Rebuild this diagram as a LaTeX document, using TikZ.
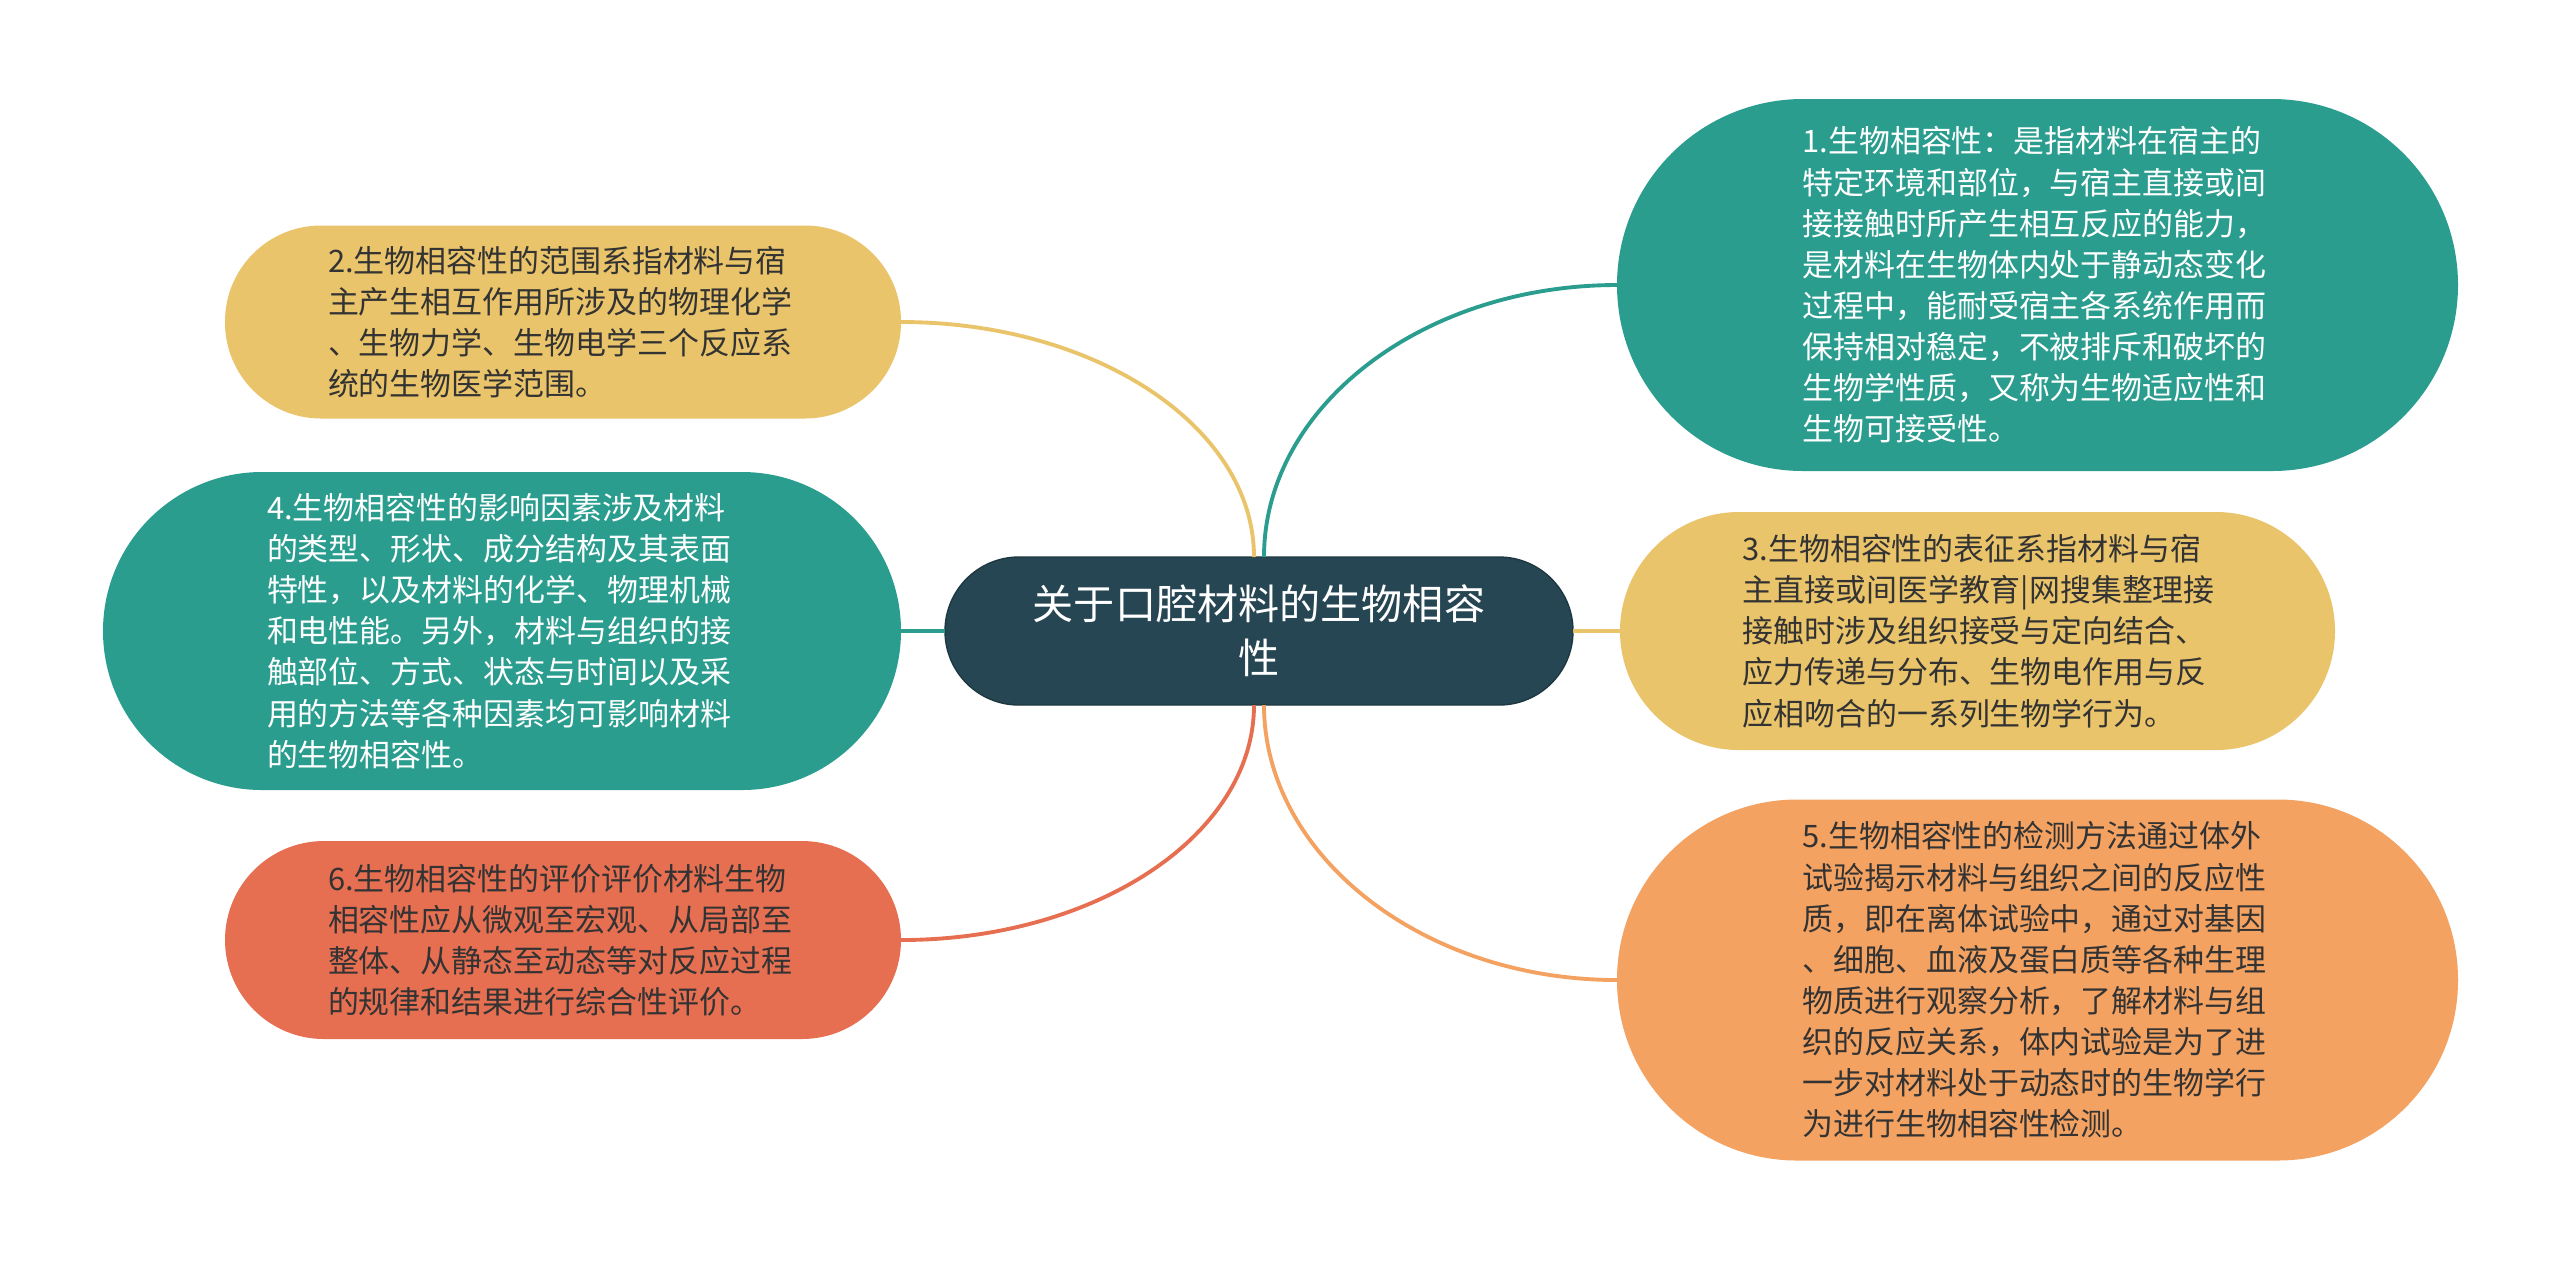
\documentclass[tikz,border=0pt]{standalone}
\usepackage{fontspec}
\newfontfamily\cjk{Noto Sans CJK SC}
\definecolor{mapdark}{HTML}{264653}
\definecolor{mapteal}{HTML}{2A9D8F}
\definecolor{mapsand}{HTML}{E9C46A}
\definecolor{mappeach}{HTML}{F4A261}
\definecolor{mapcoral}{HTML}{E76F51}
\definecolor{mapink}{HTML}{333333}

\begin{document}
\begin{tikzpicture}[
    idea/.style={rectangle, outer sep=0pt, inner sep=0pt, align=left,
                 text width=4.7cm, text=mapink,
                 font=\cjk\fontsize{8.8pt}{11.7pt}\selectfont},
    link/.style={line width=1.1pt}
  ]
  \useasboundingbox (0,0) rectangle (25.6,-12.63);

  % centre topic
  \node[rectangle, outer sep=0pt, fill=mapdark, draw=mapdark!80!black, line width=0.4pt,
        minimum width=6.28cm, minimum height=1.48cm, rounded corners=0.74cm,
        text=white, align=center, font=\cjk\fontsize{11.7pt}{15.4pt}\selectfont]
    (topic) at (12.59,-6.31) {关于口腔材料的生物相容\\性};

  % right side
  \node[idea, fill=mapteal, text=white, minimum width=8.41cm, minimum height=3.72cm,
        rounded corners=1.86cm] (bio1) at (20.375,-2.85)
    {1.生物相容性：是指材料在宿主的\\特定环境和部位，与宿主直接或间\\接接触时所产生相互反应的能力，\\是材料在生物体内处于静动态变化\\过程中，能耐受宿主各系统作用而\\保持相对稳定，不被排斥和破坏的\\生物学性质，又称为生物适应性和\\生物可接受性。};
  \node[idea, fill=mapsand, minimum width=7.15cm, minimum height=2.38cm,
        rounded corners=1.19cm] (bio3) at (19.775,-6.31)
    {3.生物相容性的表征系指材料与宿\\主直接或间医学教育|网搜集整理接\\接触时涉及组织接受与定向结合、\\应力传递与分布、生物电作用与反\\应相吻合的一系列生物学行为。};
  \node[idea, fill=mappeach, minimum width=8.41cm, minimum height=3.61cm,
        rounded corners=1.8cm] (bio5) at (20.375,-9.80)
    {5.生物相容性的检测方法通过体外\\试验揭示材料与组织之间的反应性\\质，即在离体试验中，通过对基因\\、细胞、血液及蛋白质等各种生理\\物质进行观察分析，了解材料与组\\织的反应关系，体内试验是为了进\\一步对材料处于动态时的生物学行\\为进行生物相容性检测。};

  % left side
  \node[idea, fill=mapsand, minimum width=6.76cm, minimum height=1.93cm,
        rounded corners=0.96cm] (bio2) at (5.63,-3.22)
    {2.生物相容性的范围系指材料与宿\\主产生相互作用所涉及的物理化学\\、生物力学、生物电学三个反应系\\统的生物医学范围。};
  \node[idea, fill=mapteal, text=white, minimum width=7.98cm, minimum height=3.18cm,
        rounded corners=1.59cm] (bio4) at (5.02,-6.31)
    {4.生物相容性的影响因素涉及材料\\的类型、形状、成分结构及其表面\\特性，以及材料的化学、物理机械\\和电性能。另外，材料与组织的接\\触部位、方式、状态与时间以及采\\用的方法等各种因素均可影响材料\\的生物相容性。};
  \node[idea, fill=mapcoral, minimum width=6.76cm, minimum height=1.98cm,
        rounded corners=0.99cm] (bio6) at (5.63,-9.40)
    {6.生物相容性的评价评价材料生物\\相容性应从微观至宏观、从局部至\\整体、从静态至动态等对反应过程\\的规律和结果进行综合性评价。};

  % branches
  \draw[link, mapsand] ([xshift=-0.5mm]topic.north) .. controls +(0,1.3) and +(1.95,0) .. (bio2.east);
  \draw[link, mapteal] ([xshift=0.5mm]topic.north) .. controls +(0,1.5) and +(-1.95,0) .. (bio1.west);
  \draw[link, mapcoral] ([xshift=-0.5mm]topic.south) .. controls +(0,-1.3) and +(1.95,0) .. (bio6.east);
  \draw[link, mappeach] ([xshift=0.5mm]topic.south) .. controls +(0,-1.5) and +(-1.95,0) .. (bio5.west);
  \draw[link, mapteal] (topic.west) -- (bio4.east);
  \draw[link, mapsand] (topic.east) -- (bio3.west);
\end{tikzpicture}
\end{document}
